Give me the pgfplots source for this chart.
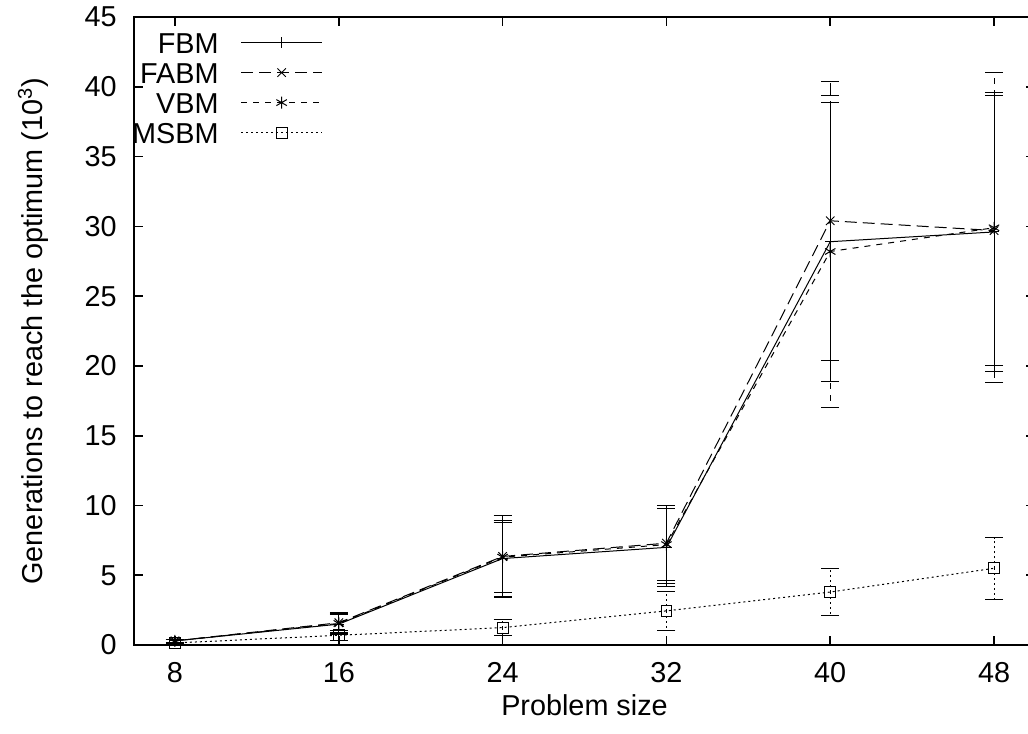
\documentclass[border=0pt]{standalone}
\usepackage{fontspec}
\setmainfont{Liberation Sans}
\usepackage{pgfplots}
\pgfplotsset{compat=1.18}

\begin{document}
\begin{tikzpicture}
\begin{axis}[
  scale only axis,
  width=450.45pt, height=314pt,
  xmin=6, xmax=50, ymin=0, ymax=45,
  xtick={8,16,24,32,40,48},
  ytick={0,5,10,15,20,25,30,35,40,45},
  tick align=inside,
  major tick length=4.5pt,
  every tick/.style={black, line width=0.8pt},
  axis line style={line width=1pt},
  font=\fontsize{14.4}{17}\selectfont,
  every tick label/.append style={font=\fontsize{14.4}{17}\selectfont},
  /pgf/number format/assume math mode=true,
  xticklabel style={yshift=-5pt},
  yticklabel style={xshift=-5.2pt},
  xlabel={Problem size},
  ylabel={Generations to reach the optimum (10\textsuperscript{3})},
  xlabel style={at={(axis description cs:0.5,-0.0955)}, anchor=center},
  ylabel style={at={(axis description cs:-0.112,0.5)}, anchor=center},
  legend style={at={(axis description cs:0.2098,0.9766)}, anchor=north east,
    draw=none, fill=none, inner sep=0pt, font=\fontsize{14.4}{17}\selectfont,
    nodes={inner sep=0pt, text height=10.5pt, text depth=0pt},
    cells={anchor=east}, row sep=4.5pt,
    /tikz/every odd column/.append style={column sep=11pt}},
  legend plot pos=right,
  legend image code/.code={
    \draw[mark repeat=2, mark phase=2, #1]
      plot coordinates {(0pt,0pt) (20.25pt,0pt) (40.5pt,0pt)};
  },
  every axis plot/.append style={black, line width=0.5pt},
  error bars/error mark options={rotate=90, mark size=4.5pt, line width=0.5pt},
]

% FBM
\addplot[solid, mark=+, mark size=2.6pt, mark options={solid},
  error bars/.cd, y dir=both, y explicit]
  coordinates {
  (8,0.3) +- (0,0.1)
  (16,1.5) +- (0,0.75)
  (24,6.2) +- (0,2.7)
  (32,7.0) +- (0,2.8)
  (40,28.9) +- (0,10.0)
  (48,29.6) +- (0,10.0)
};
\addlegendentry{FBM}

% FABM
\addplot[dash pattern=on 6pt off 3pt, mark=x, mark size=3pt, mark options={solid},
  error bars/.cd, y dir=both, y explicit]
  coordinates {
  (8,0.3) +- (0,0.1)
  (16,1.6) +- (0,0.75)
  (24,6.35) +- (0,2.95)
  (32,7.3) +- (0,2.7)
  (40,30.4) +- (0,10.0)
  (48,29.7) +- (0,9.7)
};
\addlegendentry{FABM}

% VBM
\addplot[dash pattern=on 3pt off 3pt, mark=asterisk, mark size=3pt, mark options={solid},
  error bars/.cd, y dir=both, y explicit]
  coordinates {
  (8,0.3) +- (0,0.1)
  (16,1.55) +- (0,0.65)
  (24,6.3) +- (0,2.5)
  (32,7.2) +- (0,2.8)
  (40,28.2) +- (0,11.2)
  (48,29.9) +- (0,11.1)
};
\addlegendentry{VBM}

% MSBM
\addplot[dash pattern=on 1pt off 1.5pt, mark=square, mark size=2.7pt, mark options={solid},
  error bars/.cd, y dir=both, y explicit]
  coordinates {
  (8,0.15) +- (0,0.05)
  (16,0.7) +- (0,0.35)
  (24,1.25) +- (0,0.6)
  (32,2.45) +- (0,1.4)
  (40,3.8) +- (0,1.7)
  (48,5.5) +- (0,2.2)
};
\addlegendentry{MSBM}

\end{axis}
\pgfresetboundingbox
\path[use as bounding box]
  ([xshift=-67pt,yshift=-44.25pt]current axis.south west)
  rectangle ([xshift=-3.5pt,yshift=8.5pt]current axis.north east);
\end{tikzpicture}
\end{document}
